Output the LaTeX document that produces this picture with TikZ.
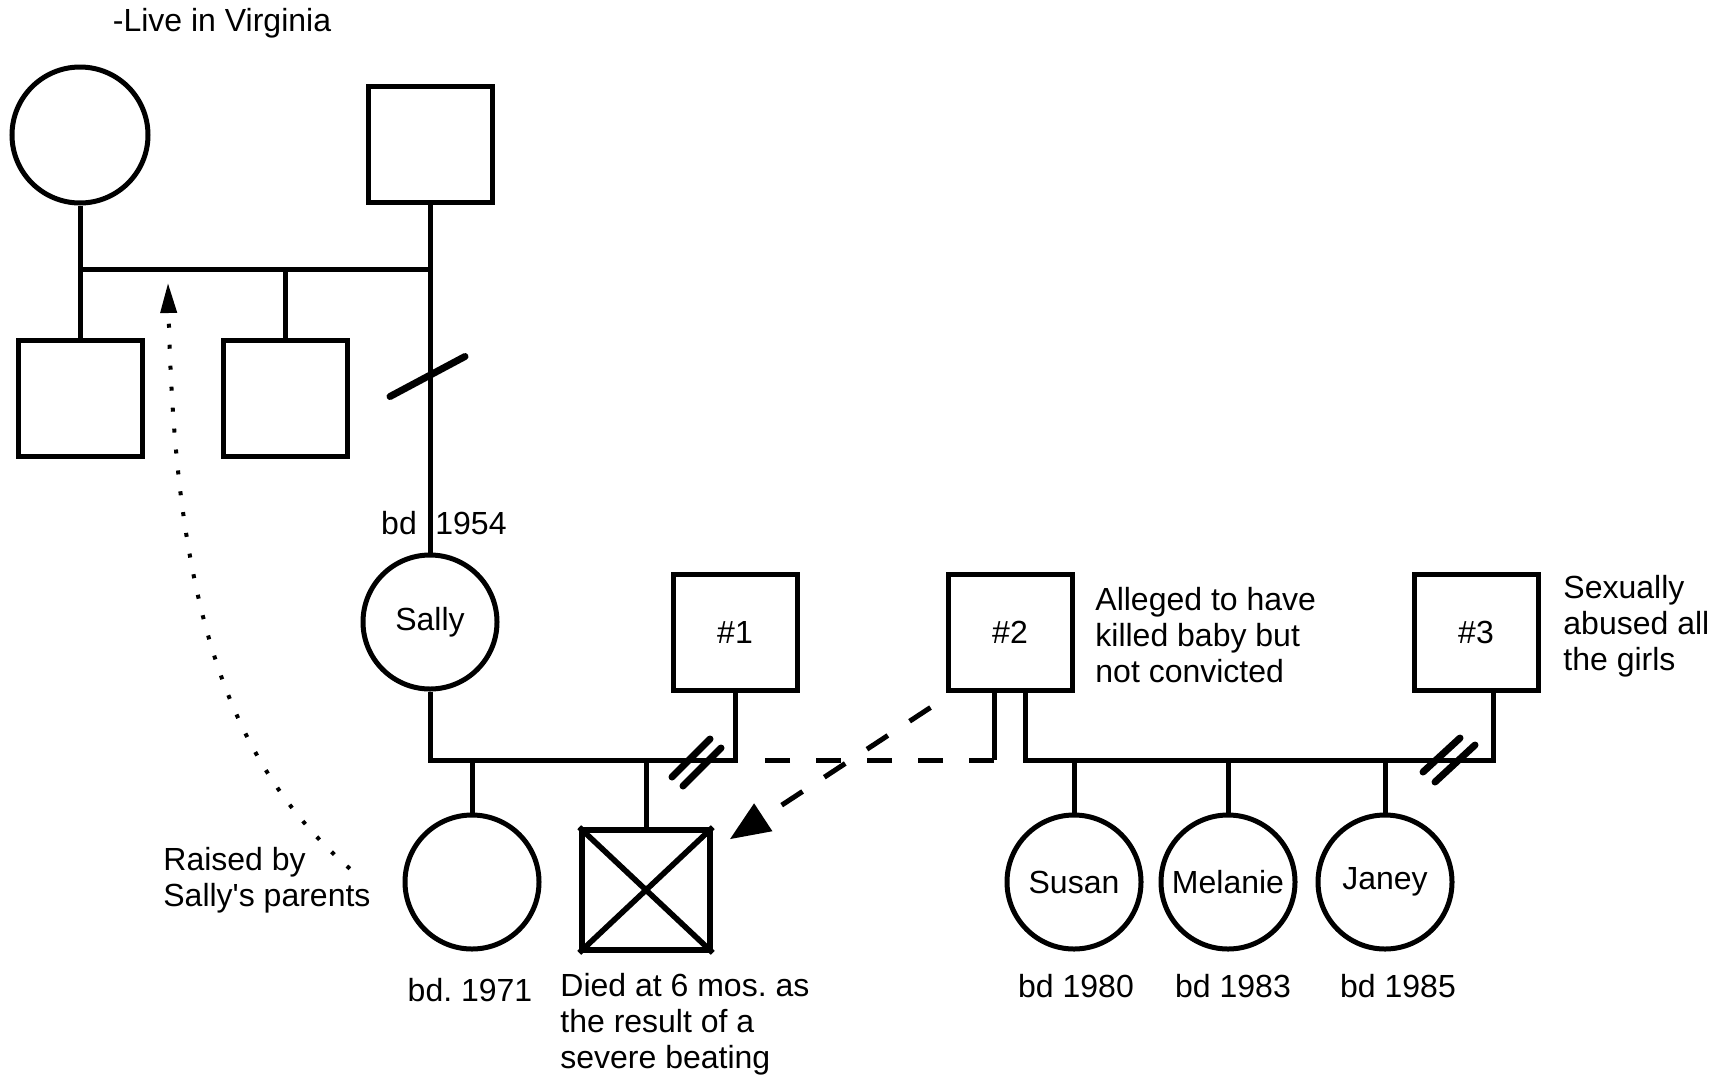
\documentclass[tikz,border=0pt]{standalone}
\usepackage{fontspec}
\setmainfont{Liberation Sans}
\usetikzlibrary{arrows.meta,calc}

\tikzset{
  male/.style={draw, rectangle, line width=2.5pt, minimum width=62pt, minimum height=58pt, inner sep=0pt},
  female/.style={draw, circle, line width=2.5pt, minimum size=67pt, inner sep=0pt},
  tie/.style={line width=2.5pt},
  cut/.style={line width=3.5pt, line cap=round},
  lost/.style={line width=2.5pt, dash pattern=on 12.5pt off 13pt},
  raised/.style={line width=2pt, dash pattern=on 2pt off 8.5pt, -{Triangle[length=15pt,width=8pt]}},
  note/.style={align=left, inner sep=0pt},
}

\begin{document}
\begin{tikzpicture}[x=0.5pt, y=-0.5pt, font=\fontsize{16}{18}\selectfont]
  \useasboundingbox (0,0) rectangle (1722,1082);
  % Sally's parents and brothers
  \node (virginia) at (222,23) {-Live in Virginia};
  \node[female, minimum size=68pt] (granny) at (80,135) {};
  \node[male] (grandpa) at (430,144) {};
  \node[male] (uncleA) at (80,398) {};
  \node[male] (uncleB) at (285,398) {};
  % Sally and her partners
  \node[female] (sally) at (430,622) {Sally};
  \node (bdS) at (399,523) {bd};
  \node (yrS) at (471,523) {1954};
  \node[male] (hub1) at (735,632) {\#1};
  \node[male] (hub2) at (1010,632) {\#2};
  \node[male] (hub3) at (1476,632) {\#3};
  \node[note, anchor=west] (alleged) at (1095,635) {Alleged to have\\killed baby but\\not convicted};
  \node[note, anchor=west] (abused) at (1563,626) {Sexually\\abused all\\the girls};
  % children
  \node[female] (firstgirl) at (472,882) {};
  \node[male, minimum width=64pt, minimum height=60pt, line width=2.8pt] (baby) at (646,890) {};
  \node[female] (susan) at (1074,882) {Susan};
  \node[female] (melanie) at (1228,882) {Melanie};
  \node[female] (janey) at (1385,882) {Janey};
  \node (bd71) at (470,990) {bd.\ 1971};
  \node[note, anchor=west] (died) at (560,1024) {Died at 6 mos.\ as\\the result of a\\severe beating};
  \node (bd80) at (1076,986) {bd 1980};
  \node (bd83) at (1233,986) {bd 1983};
  \node (bd85) at (1398,986) {bd 1985};
  \node[note, anchor=west] (raisedby) at (163,880) {Raised by\\Sally\textquotesingle s parents};

  \coordinate (sibA) at (0,269);
  \coordinate (sibB) at (0,760);
  \coordinate (hub2L) at ([xshift=-8pt]hub2.south);
  \coordinate (hub2R) at ([xshift=7.5pt]hub2.south);
  \coordinate (hub3leg) at ([xshift=8.5pt]hub3.south);

  % first generation
  \draw[tie] (granny) -- (uncleA);
  \draw[tie] (grandpa) -- (sally);
  \draw[tie] (granny |- sibA) -- (grandpa |- sibA);
  \draw[tie] (uncleB) -- (uncleB |- sibA);
  \draw[cut] (grandpa.south) ++(-40,192) -- ++(75,-40);

  % Sally with #1
  \draw[tie] (sally.south) |- (hub1.south |- sibB) -- (hub1.south);
  \draw[tie] (firstgirl) -- (firstgirl |- sibB);
  \draw[tie] (baby) -- (baby |- sibB);
  \draw[line width=2.8pt] (baby.north west) -- (baby.south east)
    (baby.north east) -- (baby.south west);
  \draw[cut] (691,758) ++(-19,19) -- ++(38,-38);
  \draw[cut] (702,767) ++(-19,19) -- ++(38,-38);

  % Sally with #2 and #3
  \draw[tie] (hub2L) -- (hub2L |- sibB);
  \draw[lost, shorten >=12pt] (hub2L |- sibB) -- (hub1.south |- sibB);
  \draw[tie] (hub2R) |- (hub3leg |- sibB) -- (hub3leg);
  \foreach \g in {susan,melanie,janey}
    \draw[tie] (\g) -- (\g |- sibB);
  \draw[cut] (1441,755) ++(-18,17) -- ++(37,-34);
  \draw[cut] (1455,763) ++(-20,19) -- ++(40,-37);

  % who killed the baby, who raised the girl
  \draw[lost, -{Triangle[length=20pt,width=16pt]}]
    ($(hub2.south west)+(-15,15)$) -- ($(baby.north east)+(17,12)$);
  \draw[raised] ($(raisedby.north east)+(-21,22)$)
    .. controls (225,760) and (175,600) .. (168,283);
\end{tikzpicture}
\end{document}
